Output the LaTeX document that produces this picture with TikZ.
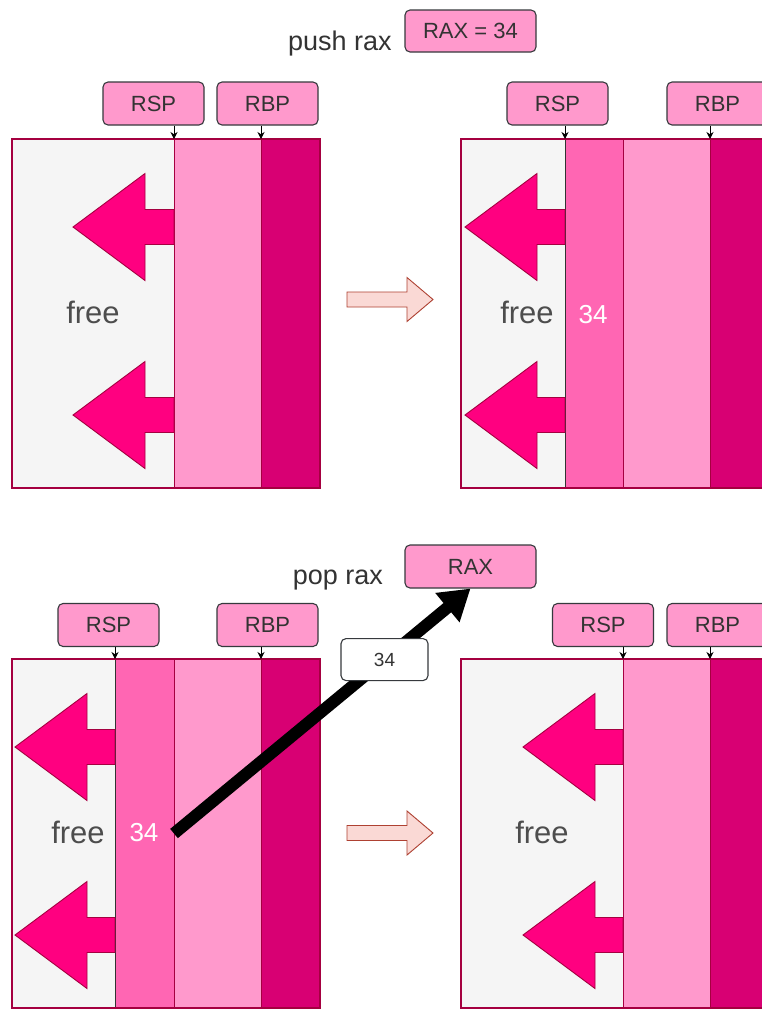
\documentclass[tikz,border=0pt]{standalone}
\usepackage{fontspec}
\setmainfont{Liberation Sans}
\usetikzlibrary{arrows.meta,calc}
\definecolor{grayF}{HTML}{F5F5F5}
\definecolor{pinkL}{HTML}{FF99CC}
\definecolor{pinkM}{HTML}{FF66B3}
\definecolor{pinkD}{HTML}{D80073}
\definecolor{maroon}{HTML}{A50040}
\definecolor{hotpink}{HTML}{FF0080}
\definecolor{salmonF}{HTML}{FAD9D5}
\definecolor{salmonS}{HTML}{AE4132}
\definecolor{boxS}{HTML}{36393D}
\definecolor{txtD}{HTML}{333333}
\definecolor{freeT}{HTML}{4D4D4D}
\newcommand{\stackcol}[6]{%
  \node[#1, anchor=north west, minimum width={#4-#3}, minimum height={#6-#5}] (#2) at (#3,#5) {};}
\newcommand{\growptr}[4]{%
  \draw[pinkarr] (#1,#4-17.5) -- (#2,#4-17.5) -- (#2,#4-53.5) -- (#3,#4) -- (#2,#4+53.5) -- (#2,#4+17.5) -- (#1,#4+17.5) -- cycle;}
\newcommand{\stepptr}[1]{%
  \draw[steparr] (347,#1-7.5) -- (407,#1-7.5) -- (407,#1-22) -- (433,#1) -- (407,#1+22) -- (407,#1+7.5) -- (347,#1+7.5) -- cycle;}
\begin{document}
\begin{tikzpicture}[x=1pt,y=-1pt,
  colgray/.style={fill=grayF, inner sep=0pt, outer sep=0pt},
  collight/.style={fill=pinkL, draw=maroon, line width=0.9pt, inner sep=0pt, outer sep=0pt},
  colmed/.style={fill=pinkM, draw=txtD, line width=0.9pt, inner sep=0pt, outer sep=0pt},
  coldark/.style={fill=pinkD, draw=maroon, line width=0.9pt, inner sep=0pt, outer sep=0pt},
  frame/.style={draw=maroon, line width=2pt},
  regbox/.style={draw=boxS, fill=pinkL, rounded corners=5pt, line width=1.1pt,
    minimum width=101pt, minimum height=43pt, inner sep=0pt, text=txtD,
    font=\fontsize{22}{25}\selectfont},
  raxbox/.style={regbox, minimum width=131pt, minimum height=42pt},
  ptr/.style={draw=black, line width=0.9pt, -{Stealth[length=7pt,width=7pt]}},
  pinkarr/.style={fill=hotpink, draw=maroon, line width=0.9pt, line join=miter},
  steparr/.style={fill=salmonF, draw=salmonS, line width=0.9pt},
  freetxt/.style={text=freeT, inner sep=0pt, font=\fontsize{31}{34}\selectfont},
  valtxt/.style={text=white, inner sep=0pt, font=\fontsize{26}{29}\selectfont},
  optxt/.style={text=txtD, inner sep=0pt, font=\fontsize{27}{30}\selectfont},
  lblbox/.style={draw=boxS, fill=white, rounded corners=5pt, line width=1.1pt,
    minimum width=87pt, minimum height=42pt, inner sep=0pt, text=txtD,
    font=\fontsize{19}{21}\selectfont}
]
\useasboundingbox (0,0) rectangle (761,1010);
\fill[white] (0,0) rectangle (761,1010);

% ---------- panel 1 ----------
\stackcol{colgray}{g1}{12}{174}{139}{488}
\stackcol{collight}{l1}{174}{261}{139}{488}
\stackcol{coldark}{d1}{261}{320}{139}{488}
\growptr{174}{145}{73}{227}
\growptr{174}{145}{73}{415}
\draw[frame] (g1.north west) rectangle (d1.south east);
\node[freetxt] (free1) at (93,312) {free};
\node[regbox] (rsp1) at (153.5,103.5) {RSP};
\node[regbox] (rbp1) at (267.5,103.5) {RBP};
\draw[ptr] (rsp1.south -| l1.north west) -- (l1.north west);
\draw[ptr] (rbp1.south -| d1.north west) -- (d1.north west);

% ---------- top header ----------
\node[optxt] (push) at (340,44) {push rax};
\node[raxbox] (rax1) at (470.5,31) {RAX = 34};
\stepptr{299.5}

% ---------- panel 2 ----------
\stackcol{colgray}{g2}{461}{565}{139}{488}
\stackcol{colmed}{m2}{565}{623}{139}{488}
\stackcol{collight}{l2}{623}{710}{139}{488}
\stackcol{coldark}{d2}{710}{769}{139}{488}
\growptr{565}{537}{465}{227}
\growptr{565}{537}{465}{415}
\draw[frame] (g2.north west) rectangle (d2.south east);
\node[freetxt] (free2) at (527,312) {free};
\node[valtxt] (v2) at (593,315) {34};
\node[regbox] (rsp2) at (557.5,103.5) {RSP};
\node[regbox] (rbp2) at (717.5,103.5) {RBP};
\draw[ptr] (rsp2.south -| m2.north west) -- (m2.north west);
\draw[ptr] (rbp2.south -| d2.north west) -- (d2.north west);

% ---------- panel 3 ----------
\stackcol{colgray}{g3}{12}{115}{659}{1008}
\stackcol{colmed}{m3}{115}{174}{659}{1008}
\stackcol{collight}{l3}{174}{261}{659}{1008}
\stackcol{coldark}{d3}{261}{320}{659}{1008}
\growptr{115}{87}{15}{747}
\growptr{115}{87}{15}{935}
\draw[frame] (g3.north west) rectangle (d3.south east);
\node[freetxt] (free3) at (78,832) {free};
\node[valtxt] (v3) at (144,833) {34};
\node[regbox] (rsp3) at (108.5,625) {RSP};
\node[regbox] (rbp3) at (267.5,625) {RBP};
\draw[ptr] (rsp3.south -| m3.north west) -- (m3.north west);
\draw[ptr] (rbp3.south -| d3.north west) -- (d3.north west);

% ---------- bottom header ----------
\node[optxt] (pop) at (338,580) {pop rax};
\node[raxbox, minimum height=43pt] (rax2) at (470.5,566.5) {RAX};
\stepptr{833}

% ---------- panel 4 ----------
\stackcol{colgray}{g4}{461}{623}{659}{1008}
\stackcol{collight}{l4}{623}{710}{659}{1008}
\stackcol{coldark}{d4}{710}{769}{659}{1008}
\growptr{623}{595}{523}{747}
\growptr{623}{595}{523}{935}
\draw[frame] (g4.north west) rectangle (d4.south east);
\node[freetxt] (free4) at (542,832) {free};
\node[regbox] (rsp4) at (603,625) {RSP};
\node[regbox] (rbp4) at (717.5,625) {RBP};
\draw[ptr] (rsp4.south -| l4.north west) -- (l4.north west);
\draw[ptr] (rbp4.south -| d4.north west) -- (d4.north west);

% ---------- pop transfer arrow ----------
\draw[line width=12pt, -{Triangle[length=30pt,width=36pt]}] (m3.east) -- (rax2.south)
  node[lblbox, pos=0.71] (lbl34) {34};
\end{tikzpicture}
\end{document}
